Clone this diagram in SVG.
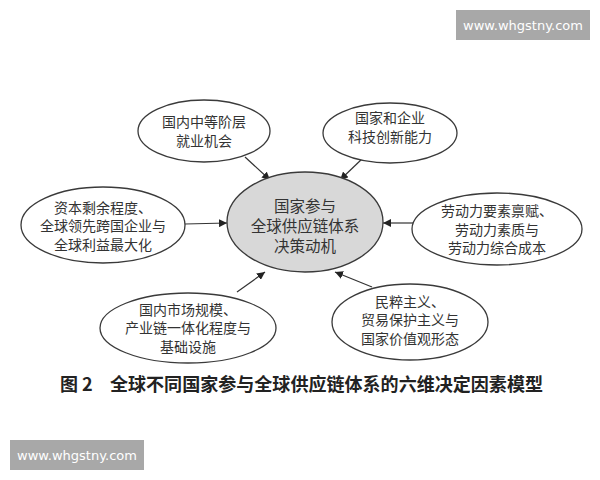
<svg xmlns="http://www.w3.org/2000/svg" width="600" height="480" viewBox="0 0 600 480">
<style>
.n{fill:#ffffff;stroke:#3a3a3a;stroke-width:1.3}
.c{fill:#d8d8d8;stroke:#3a3a3a;stroke-width:1.3}
.t{font-family:"Noto Sans CJK SC","Noto Sans CJK JP",sans-serif;font-size:14px;fill:#333;text-anchor:middle}
.ct{font-family:"Noto Sans CJK SC",sans-serif;font-size:15.5px;fill:#333;text-anchor:middle}
.e{stroke:#333;stroke-width:1.2;fill:none;marker-end:url(#a)}
.cap{font-family:"Noto Sans CJK SC",sans-serif;font-size:18px;font-weight:bold;fill:#222}
.wm{fill:#a8a8a8}
.wt{font-family:"DejaVu Sans",sans-serif;font-size:13px;fill:#fff;text-anchor:middle}
</style>
<defs>
<marker id="a" viewBox="0 0 10 10" refX="10" refY="5" markerWidth="8" markerHeight="8" markerUnits="userSpaceOnUse" orient="auto">
<path d="M0,0 L10,5 L0,10 z" fill="#222"/>
</marker>
</defs>
<rect width="600" height="480" fill="#ffffff"/>
<g id="connectors">
<line class="e" x1="245" y1="157" x2="270" y2="180"/>
<line class="e" x1="363" y1="158" x2="340" y2="180"/>
<line class="e" x1="185" y1="224" x2="227" y2="223"/>
<line class="e" x1="413" y1="223" x2="383" y2="223"/>
<line class="e" x1="237" y1="292" x2="265" y2="272"/>
<line class="e" x1="372" y1="287" x2="335" y2="272"/>
</g>
<g id="center">
<ellipse class="c" cx="305" cy="222" rx="78" ry="50"/>
<text class="ct" x="305" y="212">国家参与</text>
<text class="ct" x="305" y="232">全球供应链体系</text>
<text class="ct" x="305" y="252">决策动机</text>
</g>
<g id="n1">
<ellipse class="n" cx="204" cy="131" rx="66" ry="31"/>
<text class="t" x="204" y="127">国内中等阶层</text>
<text class="t" x="204" y="145.5">就业机会</text>
</g>
<g id="n2">
<ellipse class="n" cx="390" cy="133" rx="67" ry="30"/>
<text class="t" x="390" y="123">国家和企业</text>
<text class="t" x="390" y="142">科技创新能力</text>
</g>
<g id="n3">
<ellipse class="n" cx="103" cy="225" rx="82" ry="38"/>
<text class="t" x="103" y="212.5">资本剩余程度、</text>
<text class="t" x="103" y="231">全球领先跨国企业与</text>
<text class="t" x="103" y="249.5">全球利益最大化</text>
</g>
<g id="n4">
<ellipse class="n" cx="497" cy="229" rx="85" ry="36"/>
<text class="t" x="497" y="216">劳动力要素禀赋、</text>
<text class="t" x="497" y="234.5">劳动力素质与</text>
<text class="t" x="497" y="253">劳动力综合成本</text>
</g>
<g id="n5">
<ellipse class="n" cx="188" cy="328" rx="88" ry="35"/>
<text class="t" x="188" y="314.5">国内市场规模、</text>
<text class="t" x="188" y="333">产业链一体化程度与</text>
<text class="t" x="188" y="351.5">基础设施</text>
</g>
<g id="n6">
<ellipse class="n" cx="410" cy="322" rx="78" ry="38"/>
<text class="t" x="410" y="306.5">民粹主义、</text>
<text class="t" x="410" y="325">贸易保护主义与</text>
<text class="t" x="410" y="343.5">国家价值观形态</text>
</g>
<text class="cap" x="60" y="391">图 2</text>
<text class="cap" x="110" y="391" textLength="433" lengthAdjust="spacingAndGlyphs">全球不同国家参与全球供应链体系的六维决定因素模型</text>
<rect class="wm" x="456" y="10" width="134" height="30"/>
<text class="wt" x="523" y="30">www.whgstny.com</text>
<rect class="wm" x="10" y="440" width="134" height="30"/>
<text class="wt" x="77" y="460">www.whgstny.com</text>
</svg>
